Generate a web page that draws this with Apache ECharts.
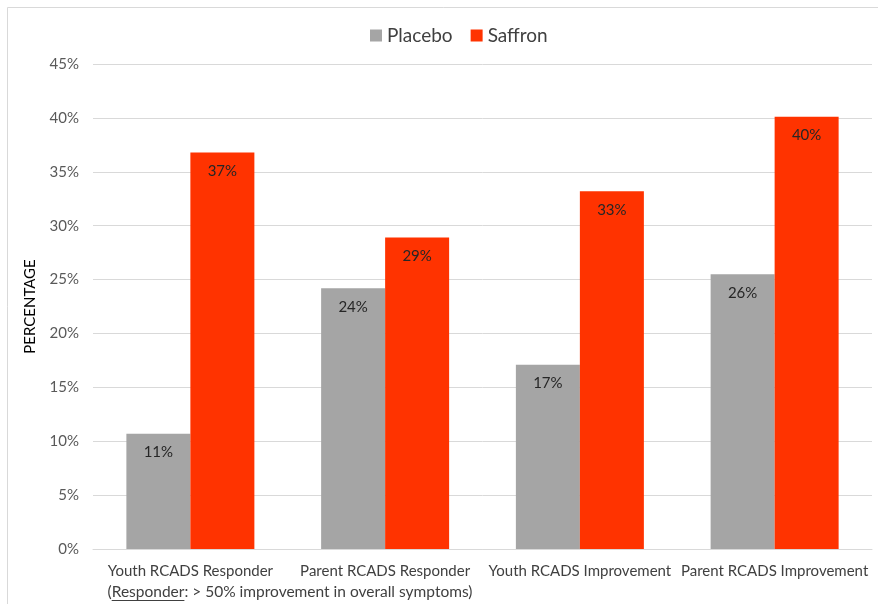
<!DOCTYPE html>
<html>
<head>
<meta charset="utf-8">
<script src="https://cdn.jsdelivr.net/npm/echarts@6/dist/echarts.min.js"></script>
<style>
  html, body { margin: 0; padding: 0; background: #fff; }
  #chart { width: 878px; height: 604px; }
</style>
</head>
<body>
<div id="chart"></div>
<script>
// data
var categories = ['Youth RCADS Responder', 'Parent RCADS Responder', 'Youth RCADS Improvement', 'Parent RCADS Improvement'];
var placebo = [10.7, 24.2, 17.1, 25.5];
var saffron = [36.8, 28.9, 33.2, 40.1];
var placeboLabels = ['11%', '24%', '17%', '26%'];
var saffronLabels = ['37%', '29%', '33%', '40%'];
var yTicks = { min: 0, max: 45, step: 5 };
var noteText = '(Responder: > 50% improvement in overall symptoms)';

var font = 'Lato';
var labelSize = 15;
var noteSize = 15.5;

// underline under the word "Responder" in the note
var ctx = document.createElement('canvas').getContext('2d');
ctx.font = noteSize + 'px ' + font;
var fullW = ctx.measureText(noteText).width;
var startX = 290 - fullW / 2 + ctx.measureText('(').width;
var wordW = ctx.measureText('Responder').width;

var chart = echarts.init(document.getElementById('chart'));

var option = {
  backgroundColor: '#fff',
  textStyle: { fontFamily: font },
  legend: {
    top: 21,
    left: 365,
    itemWidth: 12,
    itemHeight: 12,
    itemGap: 18,
    icon: 'rect',
    textStyle: { fontSize: 19, color: '#404040', fontFamily: font },
    data: ['Placebo', 'Saffron']
  },
  grid: { left: 93, right: 6, top: 64, bottom: 55, containLabel: false },
  xAxis: {
    type: 'category',
    data: categories,
    axisLine: { lineStyle: { color: '#D9D9D9' } },
    axisTick: { show: false },
    axisLabel: { color: '#404040', fontSize: labelSize, margin: 15, interval: 0, fontFamily: font }
  },
  yAxis: {
    type: 'value',
    min: yTicks.min,
    max: yTicks.max,
    interval: yTicks.step,
    name: 'PERCENTAGE',
    nameLocation: 'middle',
    nameGap: 55,
    nameRotate: 90,
    nameTextStyle: { color: '#000', fontSize: 15, fontFamily: font },
    axisLine: { show: false },
    axisTick: { show: false },
    axisLabel: { formatter: '{value}%', color: '#595959', fontSize: 15, margin: 14, fontFamily: font },
    splitLine: { lineStyle: { color: '#D9D9D9' } }
  },
  series: [
    {
      name: 'Placebo',
      type: 'bar',
      data: placebo,
      barWidth: 64,
      barGap: '0%',
      itemStyle: { color: '#A5A5A5' },
      label: {
        show: true,
        position: 'insideTop',
        distance: 11,
        color: '#262626',
        fontSize: 15,
        fontFamily: font,
        formatter: function (p) { return placeboLabels[p.dataIndex]; }
      }
    },
    {
      name: 'Saffron',
      type: 'bar',
      data: saffron,
      barWidth: 64,
      itemStyle: { color: '#FF3300' },
      label: {
        show: true,
        position: 'insideTop',
        distance: 11,
        color: '#262626',
        fontSize: 15,
        fontFamily: font,
        formatter: function (p) { return saffronLabels[p.dataIndex]; }
      }
    }
  ],
  graphic: [
    {
      type: 'rect',
      shape: { x: 7.5, y: 7.5, width: 900, height: 900 },
      style: { fill: 'none', stroke: '#D9D9D9', lineWidth: 1 },
      silent: true
    },
    {
      type: 'text',
      x: 290,
      y: 584,
      style: {
        text: noteText,
        fill: '#404040',
        font: noteSize + 'px ' + font,
        textAlign: 'center',
        textVerticalAlign: 'top'
      }
    },
    {
      type: 'line',
      shape: { x1: startX, y1: 600.5, x2: startX + wordW, y2: 600.5 },
      style: { stroke: '#404040', lineWidth: 1 },
      silent: true
    }
  ]
};

chart.setOption(option);
</script>
</body>
</html>
